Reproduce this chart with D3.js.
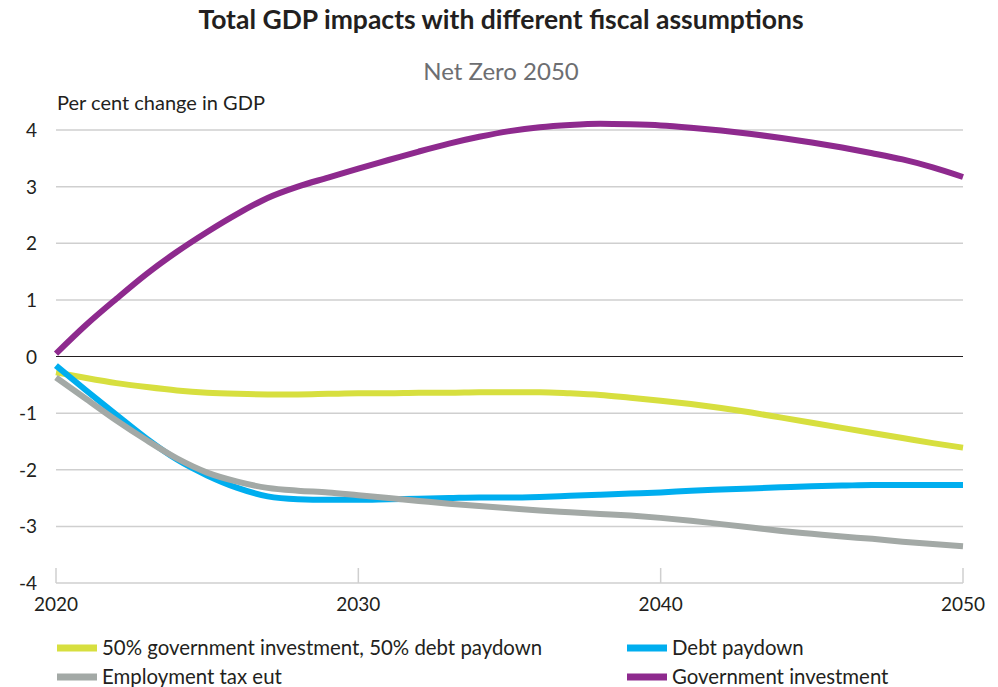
<!DOCTYPE html>
<html>
<head>
<meta charset="utf-8">
<script src="https://cdn.jsdelivr.net/npm/d3@7"></script>
<style>
  body { margin: 0; background: #fff; }
  text { font-family: Lato, "Open Sans", sans-serif; fill: #231f20; }
</style>
</head>
<body>
<div id="chart"></div>
<script>
const years = d3.range(2020, 2051)

const halfHalf = [-0.28, -0.38, -0.47, -0.54, -0.6, -0.64, -0.66, -0.67, -0.67, -0.66,
  -0.65, -0.65, -0.64, -0.64, -0.63, -0.63, -0.63, -0.65, -0.68, -0.73,
  -0.78, -0.84, -0.91, -0.99, -1.08, -1.17, -1.26, -1.35, -1.44, -1.53, -1.61]

const debtPaydown = [-0.16, -0.6, -1.03, -1.45, -1.82, -2.1, -2.32, -2.47, -2.52, -2.53,
  -2.53, -2.52, -2.51, -2.5, -2.49, -2.49, -2.48, -2.46, -2.44, -2.42,
  -2.4, -2.37, -2.35, -2.33, -2.31, -2.29, -2.28, -2.27, -2.27, -2.27, -2.27]

const employmentTax = [-0.37, -0.75, -1.13, -1.48, -1.8, -2.05, -2.21, -2.32, -2.37, -2.4,
  -2.45, -2.5, -2.55, -2.6, -2.64, -2.68, -2.72, -2.75, -2.78, -2.81,
  -2.85, -2.9, -2.96, -3.02, -3.08, -3.13, -3.18, -3.22, -3.27, -3.31, -3.35]

const govInvestment = [0.05, 0.56, 1.02, 1.46, 1.85, 2.2, 2.52, 2.8, 3.0, 3.16,
  3.32, 3.47, 3.62, 3.76, 3.88, 3.98, 4.05, 4.09, 4.11, 4.1,
  4.08, 4.04, 3.99, 3.93, 3.86, 3.78, 3.69, 3.59, 3.48, 3.34, 3.17]

const seriesNames = ['50% government investment, 50% debt paydown', 'Debt paydown',
  'Employment tax eut', 'Government investment']
const seriesColors = ['#d7df3f', '#00aeef', '#a3a9a6', '#8e2a8e']
const seriesValues = [halfHalf, debtPaydown, employmentTax, govInvestment]

const yTicks = [4, 3, 2, 1, 0, -1, -2, -3, -4]
const xTicks = [2020, 2030, 2040, 2050]

const width = 998
const height = 687
const margin = { top: 130, left: 56, right: 35, bottom: 104 }

const svg = d3.select('#chart')
  .append('svg')
  .attr('width', width)
  .attr('height', height)

const x = d3.scaleLinear().domain([2020, 2050]).range([margin.left, width - margin.right])
const y = d3.scaleLinear().domain([-4, 4]).range([height - margin.bottom, margin.top])

// titles
svg.append('text')
  .attr('x', 501).attr('y', 29)
  .attr('text-anchor', 'middle')
  .attr('font-size', '26.5px').attr('font-weight', 'bold')
  .text('Total GDP impacts with different fiscal assumptions')

svg.append('text')
  .attr('x', 501).attr('y', 80)
  .attr('text-anchor', 'middle')
  .attr('font-size', '24px')
  .style('fill', '#6d6e71')
  .text('Net Zero 2050')

svg.append('text')
  .attr('x', 57).attr('y', 110)
  .attr('font-size', '20px')
  .text('Per cent change in GDP')

// gridlines
svg.append('g')
  .selectAll('line')
  .data(yTicks.filter(d => d !== 0 && d !== -4))
  .enter()
  .append('line')
  .attr('x1', x(2020)).attr('x2', x(2050))
  .attr('y1', d => y(d)).attr('y2', d => y(d))
  .attr('stroke', '#cfcfcf')
  .attr('stroke-width', 1.5)

// y labels
svg.append('g')
  .selectAll('text')
  .data(yTicks)
  .enter()
  .append('text')
  .attr('x', 37)
  .attr('y', d => y(d) + 7)
  .attr('text-anchor', 'end')
  .attr('font-size', '19px')
  .text(d => d)

// bottom axis
svg.append('line')
  .attr('x1', x(2020)).attr('x2', x(2050))
  .attr('y1', y(-4)).attr('y2', y(-4))
  .attr('stroke', '#cfcfcf').attr('stroke-width', 1.5)

svg.append('g')
  .selectAll('line')
  .data(xTicks)
  .enter()
  .append('line')
  .attr('x1', d => x(d)).attr('x2', d => x(d))
  .attr('y1', y(-4)).attr('y2', y(-4) - 15)
  .attr('stroke', '#cfcfcf').attr('stroke-width', 1.5)

svg.append('g')
  .selectAll('text')
  .data(xTicks)
  .enter()
  .append('text')
  .attr('x', d => x(d))
  .attr('y', y(-4) + 28)
  .attr('text-anchor', 'middle')
  .attr('font-size', '19px')
  .text(d => d)

// zero line
svg.append('line')
  .attr('x1', x(2020)).attr('x2', x(2050))
  .attr('y1', y(0)).attr('y2', y(0))
  .attr('stroke', '#231f20').attr('stroke-width', 1.2)

// lines
const line = d3.line()
  .x((d, i) => x(years[i]))
  .y(d => y(d))
  .curve(d3.curveMonotoneX)

svg.append('g')
  .selectAll('path')
  .data(seriesValues)
  .enter()
  .append('path')
  .attr('d', line)
  .attr('fill', 'none')
  .attr('stroke', (d, i) => seriesColors[i])
  .attr('stroke-width', 6)

// legend
const legendPos = [[57, 648], [627, 648], [57, 677], [627, 677]]

const legend = svg.append('g')
  .selectAll('g')
  .data(seriesNames)
  .enter()
  .append('g')
  .attr('transform', (d, i) => 'translate(' + legendPos[i][0] + ',' + legendPos[i][1] + ')')

legend.append('rect')
  .attr('x', 0).attr('y', -3.5)
  .attr('width', 40).attr('height', 7)
  .attr('fill', (d, i) => seriesColors[i])

legend.append('text')
  .attr('x', 45).attr('y', 7)
  .attr('font-size', '20.4px')
  .text(d => d)
</script>
</body>
</html>
